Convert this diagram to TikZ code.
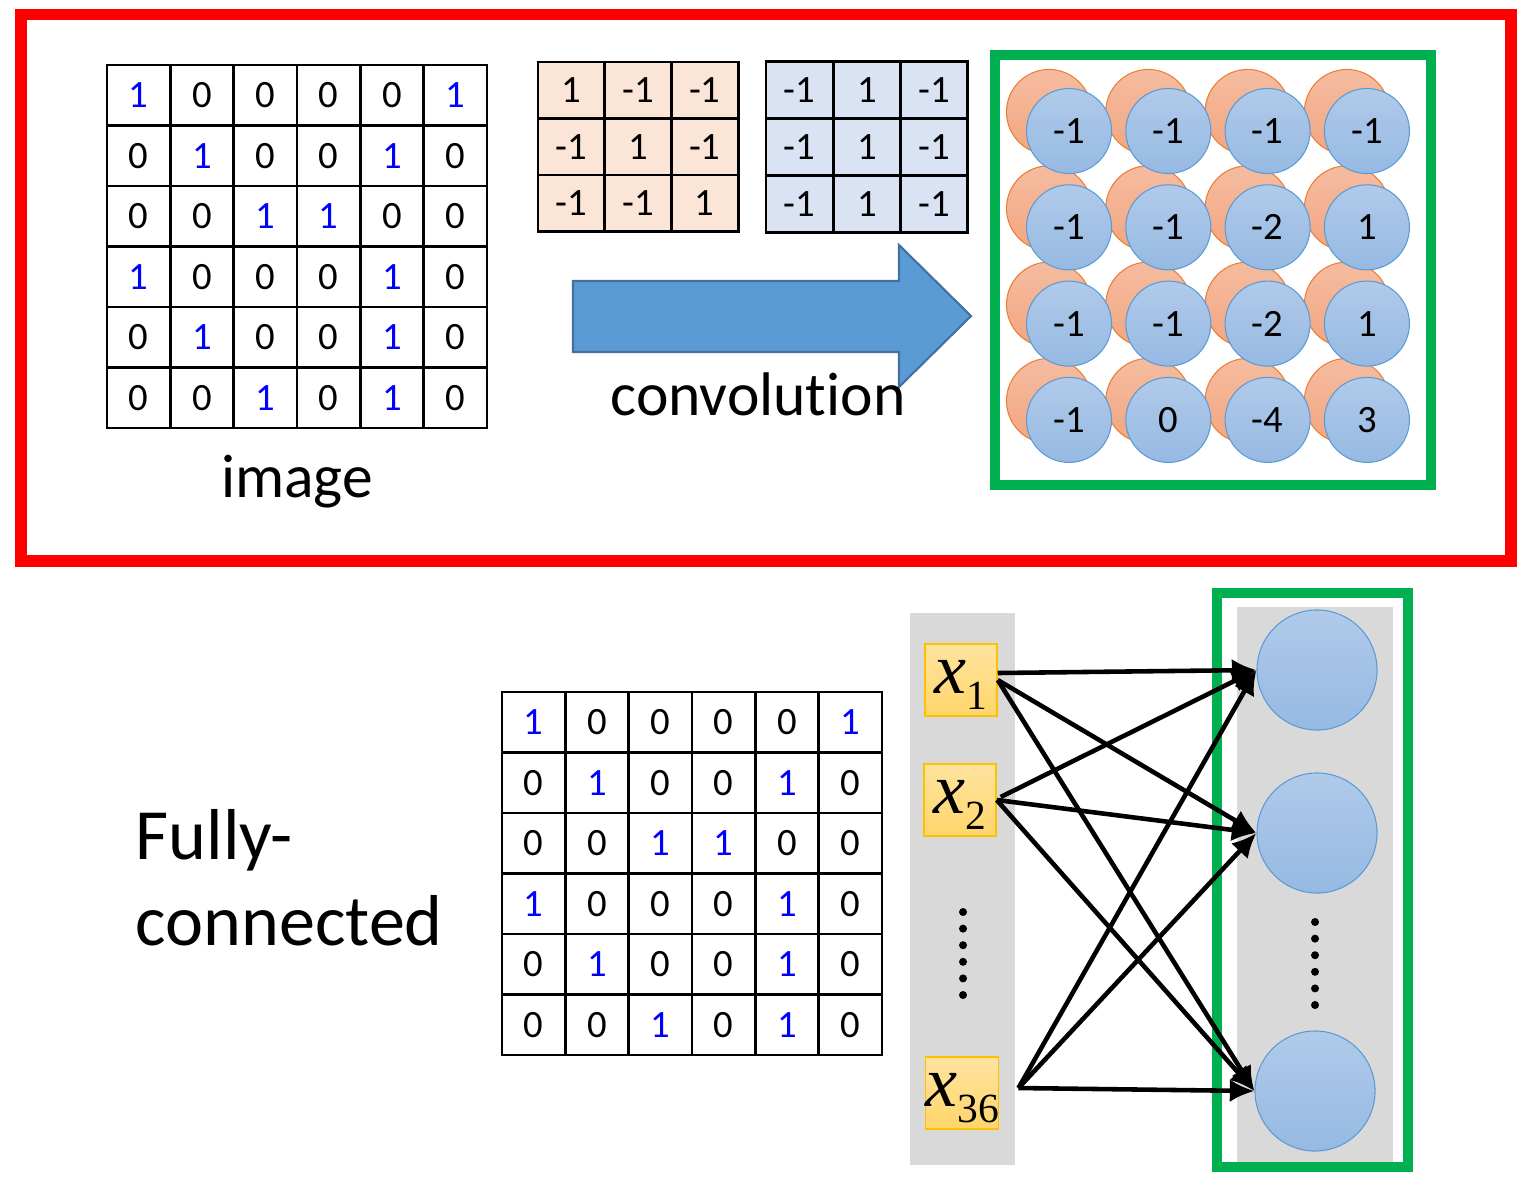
\documentclass[tikz,border=0pt]{standalone}
\usepackage{fontspec}
\setmainfont{Carlito}[Ligatures={NoCommon}]
\newfontfamily\xfont{Liberation Serif}
\usetikzlibrary{arrows.meta}

\definecolor{framered}{RGB}{255,0,0}
\definecolor{boxgreen}{RGB}{0,176,80}
\definecolor{pixblue}{RGB}{0,0,255}
\definecolor{filtorange}{RGB}{251,229,214}
\definecolor{filtblue}{RGB}{218,227,243}
\definecolor{arrowblue}{RGB}{91,155,213}
\definecolor{arrowedge}{RGB}{65,113,156}
\definecolor{panelgray}{RGB}{217,217,217}
\definecolor{blobtop}{RGB}{176,202,233}
\definecolor{blobbot}{RGB}{150,185,227}
\definecolor{blobedge}{RGB}{91,155,213}
\definecolor{oblobtop}{RGB}{245,188,160}
\definecolor{oblobbot}{RGB}{242,166,128}
\definecolor{oblobedge}{RGB}{237,125,49}
\definecolor{xtop}{RGB}{255,228,160}
\definecolor{xbot}{RGB}{255,213,106}
\definecolor{xedge}{RGB}{255,192,0}

\begin{document}
\begin{tikzpicture}[x=0.01cm, y=-0.01cm, >={Latex[length=7pt,width=6.5pt]},
  cell/.style={draw, line width=0.75pt, minimum width=0.6333cm, minimum height=0.605cm,
    inner sep=0pt, font=\fontsize{11}{13}\selectfont},
  fcell/.style={draw, line width=0.75pt, minimum width=0.67cm, minimum height=0.568cm,
    inner sep=0pt, font=\fontsize{11}{13}\selectfont},
  blob/.style={circle, draw=blobedge, line width=0.3pt, top color=blobtop, bottom color=blobbot,
    minimum size=0.85cm, inner sep=0pt, font=\fontsize{11}{13}\selectfont},
  oblob/.style={circle, draw=oblobedge, line width=0.3pt, top color=oblobtop, bottom color=oblobbot,
    minimum size=0.85cm, inner sep=0pt},
  xbox/.style={draw=xedge, line width=0.4pt, top color=xtop, bottom color=xbot,
    minimum size=0.72cm, inner sep=0pt, text height=0.49cm, text depth=0.23cm},
  hidden/.style={circle, draw=blobedge, line width=0.3pt, top color=blobtop, bottom color=blobbot,
    minimum size=1.2cm, inner sep=0pt},
  conn/.style={->, line width=1.3pt},
  bigtext/.style={font=\fontsize{17.5}{21}\selectfont}]
  \useasboundingbox (0,0) rectangle (1528,1184);

  % convolution part
  \draw[framered, line width=3.4pt] (21,14.5) rectangle (1511,561);

  % the two 6x6 images
  \foreach \ox/\oy/\gn in {107/65/img, 502/692/fc} {
    \foreach \row [count=\r] in {{1,0,0,0,0,1},{0,1,0,0,1,0},{0,0,1,1,0,0},
                                 {1,0,0,0,1,0},{0,1,0,0,1,0},{0,0,1,0,1,0}} {
      \foreach \v [count=\c] in \row {
        \ifnum\v=1 \def\tc{pixblue}\else\def\tc{black}\fi
        \node[cell, text=\tc] (\gn-\r-\c) at ({\ox+(\c-0.5)*63.33},{\oy+(\r-0.5)*60.5}) {\v};
      }
    }
  }
  \node[bigtext, anchor=base] (imglabel) at (297,497) {image};

  % filters
  \foreach \row [count=\r] in {{1,-1,-1},{-1,1,-1},{-1,-1,1}} {
    \foreach \v [count=\c] in \row
      \node[fcell, fill=filtorange] (fa-\r-\c) at ({538+(\c-0.5)*66.7},{62+(\r-0.5)*56.5}) {\v};
  }
  \foreach \row [count=\r] in {{-1,1,-1},{-1,1,-1},{-1,1,-1}} {
    \foreach \v [count=\c] in \row
      \node[fcell, fill=filtblue] (fb-\r-\c) at ({766+(\c-0.5)*67.3},{61+(\r-0.5)*57.3}) {\v};
  }

  % block arrow
  \draw[fill=arrowblue, draw=arrowedge, line width=0.6pt]
    (573,281) -- (899,281) -- (899,245) -- (971,316) -- (899,387) -- (899,352) -- (573,352) -- cycle;
  \node[bigtext, anchor=base] (conv) at (758,415) {convolu\kern0pt tion};

  % feature maps
  \draw[boxgreen, line width=2.85pt] (994.5,55) rectangle (1431,485);
  \foreach \r in {1,...,4} {
    \foreach \c in {1,...,4}
      \node[oblob] (ma-\r-\c) at ({1049+(\c-1)*99.3},{112+(\r-1)*96.3}) {};
  }
  \foreach \row [count=\r] in {{-1,-1,-1,-1},{-1,-1,-2,1},{-1,-1,-2,1},{-1,0,-4,3}} {
    \foreach \v [count=\c] in \row
      \node[blob] (mb-\r-\c) at ({1069+(\c-1)*99.3},{131+(\r-1)*96.3}) {\v};
  }

  % fully-connected part
  \node[anchor=base west, inner sep=0pt, font=\fontsize{20.5}{24.5}\selectfont] (fc1) at (135,859) {Fully-};
  \node[anchor=base west, inner sep=0pt, font=\fontsize{20.5}{24.5}\selectfont] (fc2) at (135,945) {connected};

  \fill[panelgray] (910,613) rectangle (1015,1165);
  \fill[panelgray] (1237,607) rectangle (1393,1163);
  \draw[boxgreen, line width=2.85pt] (1217,593) rectangle (1408,1167);

  \node[xbox] (x1) at (961,680)
    {{\xfont\fontsize{20.5}{21}\selectfont\itshape x}\raisebox{-4.8pt}{\xfont\fontsize{11.8}{12}\selectfont 1}};
  \node[xbox] (x2) at (960,800)
    {{\xfont\fontsize{20.5}{21}\selectfont\itshape x}\raisebox{-4.8pt}{\xfont\fontsize{11.8}{12}\selectfont 2}};
  \node[xbox] (x36) at (962,1093)
    {{\xfont\fontsize{20.5}{21}\selectfont\itshape x}\raisebox{-4.8pt}{\xfont\fontsize{11.8}{12}\selectfont 36}};

  \node[hidden] (h1) at (1317,670) {};
  \node[hidden] (h2) at (1317,833) {};
  \node[hidden] (h3) at (1315,1091) {};

  % vertical dots
  \foreach \k in {0,...,5} {
    \fill (963,{912+\k*16.6}) circle (4);
    \fill (1315,{922+\k*16.6}) circle (4);
  }

  \coordinate (x1o) at ([yshift=0.07cm]x1.east);
  \coordinate (x36o) at ([xshift=0.19cm,yshift=0.05cm]x36.east);
  \draw[conn] (x1o) -- (h1.west);
  \draw[conn] (x1.east) -- (h2.west);
  \draw[conn] (x1.east) -- (h3.west);
  \draw[conn] ([xshift=0.04cm,yshift=0.03cm]x2.east) -- (h1.west);
  \draw[conn] (x2.east) -- (h2.west);
  \draw[conn] (x2.east) -- (h3.west);
  \draw[conn] (x36o) -- (h1.west);
  \draw[conn] (x36o) -- (h2.west);
  \draw[conn] (x36o) -- (h3.west);
\end{tikzpicture}
\end{document}
